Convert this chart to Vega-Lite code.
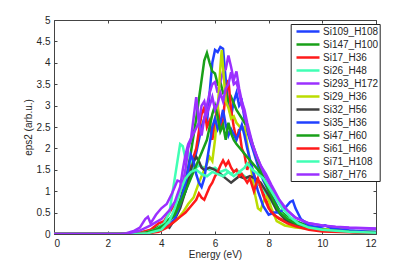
{
  "$schema": "https://vega.github.io/schema/vega-lite/v6.json",
  "width": 322,
  "height": 214,
  "autosize": {"type": "none"},
  "padding": {"left": 54, "top": 20, "right": 39, "bottom": 30},
  "background": "white",
  "config": {
    "view": {"stroke": "#444", "strokeWidth": 1},
    "font": "Liberation Sans",
    "axis": {
      "labelFont": "Liberation Sans", "labelFontSize": 10, "labelColor": "#262626",
      "titleFont": "Liberation Sans", "titleFontSize": 10, "titleFontWeight": "normal", "titleColor": "#262626",
      "grid": false, "domain": false, "tickColor": "#444", "tickSize": -3, "tickWidth": 1
    }
  },
  "data": {"values": [
    {"s":"Si109_H108","e":0,"v":0},{"s":"Si109_H108","e":2.8,"v":0},{"s":"Si109_H108","e":3.2,"v":0.02},{"s":"Si109_H108","e":3.6,"v":0.05},{"s":"Si109_H108","e":4.0,"v":0.15},{"s":"Si109_H108","e":4.3,"v":0.3},{"s":"Si109_H108","e":4.5,"v":0.45},{"s":"Si109_H108","e":4.7,"v":0.7},{"s":"Si109_H108","e":4.9,"v":1.0},{"s":"Si109_H108","e":5.1,"v":1.4},{"s":"Si109_H108","e":5.3,"v":1.9},{"s":"Si109_H108","e":5.5,"v":2.5},{"s":"Si109_H108","e":5.6,"v":2.7},{"s":"Si109_H108","e":5.7,"v":2.6},{"s":"Si109_H108","e":5.8,"v":3.3},{"s":"Si109_H108","e":5.9,"v":4.0},{"s":"Si109_H108","e":6.0,"v":4.3},{"s":"Si109_H108","e":6.1,"v":4.25},{"s":"Si109_H108","e":6.2,"v":4.37},{"s":"Si109_H108","e":6.3,"v":4.33},{"s":"Si109_H108","e":6.4,"v":3.6},{"s":"Si109_H108","e":6.5,"v":3.0},{"s":"Si109_H108","e":6.6,"v":2.75},{"s":"Si109_H108","e":6.7,"v":3.1},{"s":"Si109_H108","e":6.8,"v":3.3},{"s":"Si109_H108","e":6.9,"v":3.0},{"s":"Si109_H108","e":7.0,"v":3.1},{"s":"Si109_H108","e":7.1,"v":2.7},{"s":"Si109_H108","e":7.2,"v":2.4},{"s":"Si109_H108","e":7.4,"v":2.0},{"s":"Si109_H108","e":7.6,"v":1.6},{"s":"Si109_H108","e":7.8,"v":1.25},{"s":"Si109_H108","e":8.0,"v":1.0},{"s":"Si109_H108","e":8.2,"v":0.8},{"s":"Si109_H108","e":8.4,"v":0.55},{"s":"Si109_H108","e":8.7,"v":0.4},{"s":"Si109_H108","e":9.0,"v":0.3},{"s":"Si109_H108","e":9.4,"v":0.2},{"s":"Si109_H108","e":9.8,"v":0.15},{"s":"Si109_H108","e":10.2,"v":0.1},{"s":"Si109_H108","e":10.8,"v":0.08},{"s":"Si109_H108","e":11.4,"v":0.06},{"s":"Si109_H108","e":12,"v":0.05},

    {"s":"Si147_H100","e":0,"v":0},{"s":"Si147_H100","e":2.8,"v":0},{"s":"Si147_H100","e":3.2,"v":0.03},{"s":"Si147_H100","e":3.6,"v":0.08},{"s":"Si147_H100","e":4.0,"v":0.2},{"s":"Si147_H100","e":4.3,"v":0.35},{"s":"Si147_H100","e":4.5,"v":0.5},{"s":"Si147_H100","e":4.7,"v":0.8},{"s":"Si147_H100","e":4.9,"v":1.2},{"s":"Si147_H100","e":5.1,"v":1.9},{"s":"Si147_H100","e":5.3,"v":2.7},{"s":"Si147_H100","e":5.5,"v":3.6},{"s":"Si147_H100","e":5.6,"v":4.05},{"s":"Si147_H100","e":5.7,"v":4.23},{"s":"Si147_H100","e":5.8,"v":4.0},{"s":"Si147_H100","e":5.9,"v":3.8},{"s":"Si147_H100","e":6.0,"v":3.75},{"s":"Si147_H100","e":6.1,"v":3.5},{"s":"Si147_H100","e":6.2,"v":3.55},{"s":"Si147_H100","e":6.3,"v":3.3},{"s":"Si147_H100","e":6.4,"v":3.35},{"s":"Si147_H100","e":6.5,"v":3.1},{"s":"Si147_H100","e":6.6,"v":3.2},{"s":"Si147_H100","e":6.8,"v":2.9},{"s":"Si147_H100","e":7.0,"v":2.7},{"s":"Si147_H100","e":7.2,"v":2.5},{"s":"Si147_H100","e":7.4,"v":2.1},{"s":"Si147_H100","e":7.6,"v":1.7},{"s":"Si147_H100","e":7.8,"v":1.35},{"s":"Si147_H100","e":8.0,"v":1.0},{"s":"Si147_H100","e":8.2,"v":0.75},{"s":"Si147_H100","e":8.4,"v":0.55},{"s":"Si147_H100","e":8.7,"v":0.4},{"s":"Si147_H100","e":9.0,"v":0.3},{"s":"Si147_H100","e":9.4,"v":0.2},{"s":"Si147_H100","e":9.8,"v":0.12},{"s":"Si147_H100","e":10.4,"v":0.08},{"s":"Si147_H100","e":11,"v":0.05},{"s":"Si147_H100","e":12,"v":0.04},

    {"s":"Si17_H36","e":0,"v":0},{"s":"Si17_H36","e":2.8,"v":0},{"s":"Si17_H36","e":3.2,"v":0.03},{"s":"Si17_H36","e":3.6,"v":0.1},{"s":"Si17_H36","e":3.9,"v":0.25},{"s":"Si17_H36","e":4.1,"v":0.3},{"s":"Si17_H36","e":4.3,"v":0.5},{"s":"Si17_H36","e":4.5,"v":0.7},{"s":"Si17_H36","e":4.7,"v":1.0},{"s":"Si17_H36","e":4.9,"v":1.3},{"s":"Si17_H36","e":5.1,"v":1.6},{"s":"Si17_H36","e":5.3,"v":2.0},{"s":"Si17_H36","e":5.4,"v":2.4},{"s":"Si17_H36","e":5.5,"v":2.8},{"s":"Si17_H36","e":5.6,"v":2.95},{"s":"Si17_H36","e":5.7,"v":2.5},{"s":"Si17_H36","e":5.8,"v":2.65},{"s":"Si17_H36","e":5.9,"v":2.2},{"s":"Si17_H36","e":6.0,"v":2.6},{"s":"Si17_H36","e":6.1,"v":3.0},{"s":"Si17_H36","e":6.2,"v":2.4},{"s":"Si17_H36","e":6.3,"v":2.7},{"s":"Si17_H36","e":6.4,"v":3.3},{"s":"Si17_H36","e":6.5,"v":3.6},{"s":"Si17_H36","e":6.6,"v":2.9},{"s":"Si17_H36","e":6.7,"v":2.5},{"s":"Si17_H36","e":6.8,"v":2.2},{"s":"Si17_H36","e":6.9,"v":2.45},{"s":"Si17_H36","e":7.0,"v":2.0},{"s":"Si17_H36","e":7.1,"v":1.85},{"s":"Si17_H36","e":7.2,"v":1.5},{"s":"Si17_H36","e":7.3,"v":1.7},{"s":"Si17_H36","e":7.5,"v":1.3},{"s":"Si17_H36","e":7.7,"v":1.1},{"s":"Si17_H36","e":7.9,"v":0.8},{"s":"Si17_H36","e":8.1,"v":0.5},{"s":"Si17_H36","e":8.3,"v":0.4},{"s":"Si17_H36","e":8.6,"v":0.3},{"s":"Si17_H36","e":9.0,"v":0.2},{"s":"Si17_H36","e":9.5,"v":0.12},{"s":"Si17_H36","e":10,"v":0.08},{"s":"Si17_H36","e":11,"v":0.05},{"s":"Si17_H36","e":12,"v":0.03},

    {"s":"Si26_H48","e":0,"v":0},{"s":"Si26_H48","e":3.0,"v":0},{"s":"Si26_H48","e":3.4,"v":0.03},{"s":"Si26_H48","e":3.8,"v":0.1},{"s":"Si26_H48","e":4.1,"v":0.25},{"s":"Si26_H48","e":4.3,"v":0.5},{"s":"Si26_H48","e":4.4,"v":0.9},{"s":"Si26_H48","e":4.5,"v":1.3},{"s":"Si26_H48","e":4.6,"v":1.7},{"s":"Si26_H48","e":4.7,"v":2.1},{"s":"Si26_H48","e":4.8,"v":2.05},{"s":"Si26_H48","e":4.9,"v":1.75},{"s":"Si26_H48","e":5.0,"v":1.9},{"s":"Si26_H48","e":5.1,"v":1.7},{"s":"Si26_H48","e":5.2,"v":1.5},{"s":"Si26_H48","e":5.4,"v":1.6},{"s":"Si26_H48","e":5.6,"v":1.55},{"s":"Si26_H48","e":5.8,"v":1.5},{"s":"Si26_H48","e":6.0,"v":1.55},{"s":"Si26_H48","e":6.2,"v":1.45},{"s":"Si26_H48","e":6.4,"v":1.5},{"s":"Si26_H48","e":6.6,"v":1.4},{"s":"Si26_H48","e":6.8,"v":1.5},{"s":"Si26_H48","e":7.0,"v":1.4},{"s":"Si26_H48","e":7.2,"v":1.3},{"s":"Si26_H48","e":7.4,"v":1.35},{"s":"Si26_H48","e":7.6,"v":1.2},{"s":"Si26_H48","e":7.8,"v":1.05},{"s":"Si26_H48","e":8.0,"v":0.85},{"s":"Si26_H48","e":8.3,"v":0.6},{"s":"Si26_H48","e":8.6,"v":0.4},{"s":"Si26_H48","e":9.0,"v":0.25},{"s":"Si26_H48","e":9.5,"v":0.15},{"s":"Si26_H48","e":10,"v":0.1},{"s":"Si26_H48","e":11,"v":0.05},{"s":"Si26_H48","e":12,"v":0.03},

    {"s":"Si293_H172","e":0,"v":0},{"s":"Si293_H172","e":2.4,"v":0},{"s":"Si293_H172","e":2.7,"v":0.02},{"s":"Si293_H172","e":3.0,"v":0.08},{"s":"Si293_H172","e":3.2,"v":0.15},{"s":"Si293_H172","e":3.4,"v":0.35},{"s":"Si293_H172","e":3.5,"v":0.4},{"s":"Si293_H172","e":3.6,"v":0.25},{"s":"Si293_H172","e":3.8,"v":0.45},{"s":"Si293_H172","e":4.0,"v":0.6},{"s":"Si293_H172","e":4.2,"v":0.7},{"s":"Si293_H172","e":4.4,"v":0.95},{"s":"Si293_H172","e":4.6,"v":1.25},{"s":"Si293_H172","e":4.8,"v":1.2},{"s":"Si293_H172","e":4.9,"v":1.5},{"s":"Si293_H172","e":5.0,"v":2.0},{"s":"Si293_H172","e":5.1,"v":2.2},{"s":"Si293_H172","e":5.2,"v":2.7},{"s":"Si293_H172","e":5.3,"v":3.2},{"s":"Si293_H172","e":5.4,"v":2.6},{"s":"Si293_H172","e":5.5,"v":2.3},{"s":"Si293_H172","e":5.6,"v":2.7},{"s":"Si293_H172","e":5.7,"v":3.0},{"s":"Si293_H172","e":5.8,"v":3.3},{"s":"Si293_H172","e":5.9,"v":3.5},{"s":"Si293_H172","e":6.0,"v":3.55},{"s":"Si293_H172","e":6.1,"v":3.3},{"s":"Si293_H172","e":6.2,"v":3.55},{"s":"Si293_H172","e":6.3,"v":3.8},{"s":"Si293_H172","e":6.4,"v":3.85},{"s":"Si293_H172","e":6.5,"v":4.17},{"s":"Si293_H172","e":6.6,"v":3.9},{"s":"Si293_H172","e":6.7,"v":3.6},{"s":"Si293_H172","e":6.8,"v":3.8},{"s":"Si293_H172","e":6.9,"v":3.4},{"s":"Si293_H172","e":7.0,"v":3.1},{"s":"Si293_H172","e":7.1,"v":2.9},{"s":"Si293_H172","e":7.2,"v":2.6},{"s":"Si293_H172","e":7.4,"v":2.1},{"s":"Si293_H172","e":7.6,"v":1.75},{"s":"Si293_H172","e":7.8,"v":1.45},{"s":"Si293_H172","e":8.0,"v":1.2},{"s":"Si293_H172","e":8.3,"v":0.85},{"s":"Si293_H172","e":8.6,"v":0.6},{"s":"Si293_H172","e":9.0,"v":0.38},{"s":"Si293_H172","e":9.5,"v":0.25},{"s":"Si293_H172","e":10,"v":0.2},{"s":"Si293_H172","e":10.5,"v":0.16},{"s":"Si293_H172","e":11,"v":0.14},{"s":"Si293_H172","e":12,"v":0.12},

    {"s":"Si29_H36","e":0,"v":0},{"s":"Si29_H36","e":3.0,"v":0},{"s":"Si29_H36","e":3.5,"v":0.02},{"s":"Si29_H36","e":4.0,"v":0.1},{"s":"Si29_H36","e":4.3,"v":0.2},{"s":"Si29_H36","e":4.6,"v":0.35},{"s":"Si29_H36","e":4.8,"v":0.5},{"s":"Si29_H36","e":5.0,"v":0.7},{"s":"Si29_H36","e":5.2,"v":0.85},{"s":"Si29_H36","e":5.4,"v":1.2},{"s":"Si29_H36","e":5.6,"v":1.5},{"s":"Si29_H36","e":5.8,"v":1.8},{"s":"Si29_H36","e":5.9,"v":1.7},{"s":"Si29_H36","e":6.0,"v":2.2},{"s":"Si29_H36","e":6.1,"v":2.9},{"s":"Si29_H36","e":6.2,"v":3.9},{"s":"Si29_H36","e":6.25,"v":4.3},{"s":"Si29_H36","e":6.3,"v":3.9},{"s":"Si29_H36","e":6.4,"v":3.1},{"s":"Si29_H36","e":6.5,"v":2.95},{"s":"Si29_H36","e":6.6,"v":2.7},{"s":"Si29_H36","e":6.7,"v":2.75},{"s":"Si29_H36","e":6.8,"v":2.6},{"s":"Si29_H36","e":7.0,"v":2.45},{"s":"Si29_H36","e":7.1,"v":2.5},{"s":"Si29_H36","e":7.2,"v":2.1},{"s":"Si29_H36","e":7.3,"v":1.7},{"s":"Si29_H36","e":7.4,"v":1.3},{"s":"Si29_H36","e":7.5,"v":0.9},{"s":"Si29_H36","e":7.6,"v":0.6},{"s":"Si29_H36","e":7.7,"v":0.55},{"s":"Si29_H36","e":7.8,"v":0.75},{"s":"Si29_H36","e":7.95,"v":0.9},{"s":"Si29_H36","e":8.1,"v":0.6},{"s":"Si29_H36","e":8.3,"v":0.3},{"s":"Si29_H36","e":8.6,"v":0.2},{"s":"Si29_H36","e":9.0,"v":0.15},{"s":"Si29_H36","e":9.5,"v":0.12},{"s":"Si29_H36","e":10,"v":0.1},{"s":"Si29_H36","e":10.5,"v":0.12},{"s":"Si29_H36","e":11,"v":0.07},{"s":"Si29_H36","e":12,"v":0.04},

    {"s":"Si32_H56","e":0,"v":0},{"s":"Si32_H56","e":3.0,"v":0},{"s":"Si32_H56","e":3.5,"v":0.02},{"s":"Si32_H56","e":3.9,"v":0.08},{"s":"Si32_H56","e":4.2,"v":0.2},{"s":"Si32_H56","e":4.3,"v":0.15},{"s":"Si32_H56","e":4.5,"v":0.35},{"s":"Si32_H56","e":4.7,"v":0.6},{"s":"Si32_H56","e":4.9,"v":1.0},{"s":"Si32_H56","e":5.1,"v":1.5},{"s":"Si32_H56","e":5.2,"v":1.7},{"s":"Si32_H56","e":5.3,"v":1.8},{"s":"Si32_H56","e":5.4,"v":1.7},{"s":"Si32_H56","e":5.5,"v":1.55},{"s":"Si32_H56","e":5.6,"v":1.5},{"s":"Si32_H56","e":5.8,"v":1.55},{"s":"Si32_H56","e":6.0,"v":1.5},{"s":"Si32_H56","e":6.2,"v":1.4},{"s":"Si32_H56","e":6.4,"v":1.3},{"s":"Si32_H56","e":6.6,"v":1.2},{"s":"Si32_H56","e":6.7,"v":1.25},{"s":"Si32_H56","e":6.9,"v":1.35},{"s":"Si32_H56","e":7.1,"v":1.3},{"s":"Si32_H56","e":7.3,"v":1.35},{"s":"Si32_H56","e":7.5,"v":1.3},{"s":"Si32_H56","e":7.7,"v":1.2},{"s":"Si32_H56","e":7.9,"v":1.0},{"s":"Si32_H56","e":8.1,"v":0.8},{"s":"Si32_H56","e":8.3,"v":0.55},{"s":"Si32_H56","e":8.6,"v":0.35},{"s":"Si32_H56","e":9.0,"v":0.2},{"s":"Si32_H56","e":9.5,"v":0.12},{"s":"Si32_H56","e":10,"v":0.08},{"s":"Si32_H56","e":11,"v":0.05},{"s":"Si32_H56","e":12,"v":0.03},

    {"s":"Si35_H36","e":0,"v":0},{"s":"Si35_H36","e":3.0,"v":0},{"s":"Si35_H36","e":3.5,"v":0.02},{"s":"Si35_H36","e":4.0,"v":0.1},{"s":"Si35_H36","e":4.3,"v":0.2},{"s":"Si35_H36","e":4.5,"v":0.35},{"s":"Si35_H36","e":4.7,"v":0.7},{"s":"Si35_H36","e":4.9,"v":1.2},{"s":"Si35_H36","e":5.0,"v":1.5},{"s":"Si35_H36","e":5.1,"v":1.85},{"s":"Si35_H36","e":5.2,"v":1.7},{"s":"Si35_H36","e":5.3,"v":1.4},{"s":"Si35_H36","e":5.4,"v":1.2},{"s":"Si35_H36","e":5.5,"v":1.1},{"s":"Si35_H36","e":5.6,"v":1.3},{"s":"Si35_H36","e":5.7,"v":1.7},{"s":"Si35_H36","e":5.8,"v":2.1},{"s":"Si35_H36","e":5.9,"v":2.5},{"s":"Si35_H36","e":6.0,"v":2.7},{"s":"Si35_H36","e":6.1,"v":2.45},{"s":"Si35_H36","e":6.2,"v":2.6},{"s":"Si35_H36","e":6.3,"v":2.9},{"s":"Si35_H36","e":6.4,"v":2.55},{"s":"Si35_H36","e":6.5,"v":2.3},{"s":"Si35_H36","e":6.6,"v":2.45},{"s":"Si35_H36","e":6.8,"v":2.2},{"s":"Si35_H36","e":7.0,"v":2.55},{"s":"Si35_H36","e":7.1,"v":2.3},{"s":"Si35_H36","e":7.2,"v":2.0},{"s":"Si35_H36","e":7.4,"v":1.5},{"s":"Si35_H36","e":7.6,"v":1.0},{"s":"Si35_H36","e":7.8,"v":0.65},{"s":"Si35_H36","e":8.0,"v":0.45},{"s":"Si35_H36","e":8.2,"v":0.5},{"s":"Si35_H36","e":8.4,"v":0.5},{"s":"Si35_H36","e":8.6,"v":0.6},{"s":"Si35_H36","e":8.8,"v":0.75},{"s":"Si35_H36","e":8.9,"v":0.78},{"s":"Si35_H36","e":9.0,"v":0.6},{"s":"Si35_H36","e":9.2,"v":0.35},{"s":"Si35_H36","e":9.5,"v":0.2},{"s":"Si35_H36","e":9.8,"v":0.15},{"s":"Si35_H36","e":10.1,"v":0.2},{"s":"Si35_H36","e":10.4,"v":0.12},{"s":"Si35_H36","e":11,"v":0.08},{"s":"Si35_H36","e":12,"v":0.04},

    {"s":"Si47_H60","e":0,"v":0},{"s":"Si47_H60","e":3.0,"v":0},{"s":"Si47_H60","e":3.4,"v":0.03},{"s":"Si47_H60","e":3.8,"v":0.1},{"s":"Si47_H60","e":4.2,"v":0.25},{"s":"Si47_H60","e":4.5,"v":0.45},{"s":"Si47_H60","e":4.7,"v":0.7},{"s":"Si47_H60","e":4.9,"v":1.0},{"s":"Si47_H60","e":5.1,"v":1.3},{"s":"Si47_H60","e":5.3,"v":1.6},{"s":"Si47_H60","e":5.5,"v":1.9},{"s":"Si47_H60","e":5.7,"v":2.2},{"s":"Si47_H60","e":5.8,"v":2.5},{"s":"Si47_H60","e":5.9,"v":2.8},{"s":"Si47_H60","e":6.0,"v":3.0},{"s":"Si47_H60","e":6.1,"v":2.75},{"s":"Si47_H60","e":6.2,"v":2.4},{"s":"Si47_H60","e":6.3,"v":2.55},{"s":"Si47_H60","e":6.4,"v":2.2},{"s":"Si47_H60","e":6.5,"v":2.6},{"s":"Si47_H60","e":6.6,"v":2.35},{"s":"Si47_H60","e":6.7,"v":2.2},{"s":"Si47_H60","e":6.8,"v":2.1},{"s":"Si47_H60","e":7.0,"v":1.95},{"s":"Si47_H60","e":7.2,"v":1.8},{"s":"Si47_H60","e":7.4,"v":1.65},{"s":"Si47_H60","e":7.6,"v":1.5},{"s":"Si47_H60","e":7.8,"v":1.3},{"s":"Si47_H60","e":8.0,"v":1.05},{"s":"Si47_H60","e":8.2,"v":0.75},{"s":"Si47_H60","e":8.4,"v":0.5},{"s":"Si47_H60","e":8.7,"v":0.35},{"s":"Si47_H60","e":9.0,"v":0.25},{"s":"Si47_H60","e":9.5,"v":0.15},{"s":"Si47_H60","e":10,"v":0.1},{"s":"Si47_H60","e":11,"v":0.05},{"s":"Si47_H60","e":12,"v":0.03},

    {"s":"Si61_H66","e":0,"v":0},{"s":"Si61_H66","e":3.0,"v":0},{"s":"Si61_H66","e":3.5,"v":0.02},{"s":"Si61_H66","e":3.9,"v":0.05},{"s":"Si61_H66","e":4.2,"v":0.15},{"s":"Si61_H66","e":4.5,"v":0.3},{"s":"Si61_H66","e":4.7,"v":0.4},{"s":"Si61_H66","e":4.9,"v":0.5},{"s":"Si61_H66","e":5.1,"v":0.65},{"s":"Si61_H66","e":5.3,"v":0.8},{"s":"Si61_H66","e":5.4,"v":0.95},{"s":"Si61_H66","e":5.5,"v":0.85},{"s":"Si61_H66","e":5.6,"v":0.8},{"s":"Si61_H66","e":5.7,"v":0.95},{"s":"Si61_H66","e":5.8,"v":1.1},{"s":"Si61_H66","e":5.9,"v":1.2},{"s":"Si61_H66","e":6.0,"v":1.35},{"s":"Si61_H66","e":6.1,"v":1.45},{"s":"Si61_H66","e":6.2,"v":1.6},{"s":"Si61_H66","e":6.3,"v":1.72},{"s":"Si61_H66","e":6.4,"v":1.6},{"s":"Si61_H66","e":6.5,"v":1.7},{"s":"Si61_H66","e":6.6,"v":1.55},{"s":"Si61_H66","e":6.7,"v":1.45},{"s":"Si61_H66","e":6.8,"v":1.5},{"s":"Si61_H66","e":6.9,"v":1.35},{"s":"Si61_H66","e":7.0,"v":1.4},{"s":"Si61_H66","e":7.2,"v":1.2},{"s":"Si61_H66","e":7.3,"v":1.3},{"s":"Si61_H66","e":7.45,"v":1.0},{"s":"Si61_H66","e":7.6,"v":1.3},{"s":"Si61_H66","e":7.8,"v":0.9},{"s":"Si61_H66","e":8.0,"v":0.6},{"s":"Si61_H66","e":8.2,"v":0.45},{"s":"Si61_H66","e":8.4,"v":0.35},{"s":"Si61_H66","e":8.7,"v":0.25},{"s":"Si61_H66","e":9.0,"v":0.18},{"s":"Si61_H66","e":9.5,"v":0.1},{"s":"Si61_H66","e":10,"v":0.06},{"s":"Si61_H66","e":11,"v":0.04},{"s":"Si61_H66","e":12,"v":0.02},

    {"s":"Si71_H108","e":0,"v":0},{"s":"Si71_H108","e":3.0,"v":0},{"s":"Si71_H108","e":3.5,"v":0.02},{"s":"Si71_H108","e":4.0,"v":0.1},{"s":"Si71_H108","e":4.3,"v":0.3},{"s":"Si71_H108","e":4.5,"v":0.6},{"s":"Si71_H108","e":4.7,"v":1.0},{"s":"Si71_H108","e":4.9,"v":1.3},{"s":"Si71_H108","e":5.1,"v":1.45},{"s":"Si71_H108","e":5.3,"v":1.5},{"s":"Si71_H108","e":5.5,"v":1.4},{"s":"Si71_H108","e":5.7,"v":1.35},{"s":"Si71_H108","e":5.9,"v":1.45},{"s":"Si71_H108","e":6.1,"v":1.4},{"s":"Si71_H108","e":6.3,"v":1.35},{"s":"Si71_H108","e":6.5,"v":1.45},{"s":"Si71_H108","e":6.7,"v":1.35},{"s":"Si71_H108","e":6.9,"v":1.45},{"s":"Si71_H108","e":7.1,"v":1.55},{"s":"Si71_H108","e":7.2,"v":1.65},{"s":"Si71_H108","e":7.4,"v":1.5},{"s":"Si71_H108","e":7.6,"v":1.4},{"s":"Si71_H108","e":7.8,"v":1.3},{"s":"Si71_H108","e":8.0,"v":1.1},{"s":"Si71_H108","e":8.2,"v":0.9},{"s":"Si71_H108","e":8.5,"v":0.6},{"s":"Si71_H108","e":8.8,"v":0.4},{"s":"Si71_H108","e":9.1,"v":0.25},{"s":"Si71_H108","e":9.5,"v":0.15},{"s":"Si71_H108","e":10,"v":0.1},{"s":"Si71_H108","e":11,"v":0.05},{"s":"Si71_H108","e":12,"v":0.03},

    {"s":"Si87_H76","e":0,"v":0},{"s":"Si87_H76","e":2.5,"v":0},{"s":"Si87_H76","e":2.8,"v":0.02},{"s":"Si87_H76","e":3.2,"v":0.08},{"s":"Si87_H76","e":3.6,"v":0.2},{"s":"Si87_H76","e":4.0,"v":0.35},{"s":"Si87_H76","e":4.3,"v":0.55},{"s":"Si87_H76","e":4.5,"v":0.75},{"s":"Si87_H76","e":4.7,"v":1.1},{"s":"Si87_H76","e":4.8,"v":1.5},{"s":"Si87_H76","e":4.9,"v":1.85},{"s":"Si87_H76","e":5.0,"v":2.1},{"s":"Si87_H76","e":5.2,"v":2.35},{"s":"Si87_H76","e":5.4,"v":2.6},{"s":"Si87_H76","e":5.5,"v":3.0},{"s":"Si87_H76","e":5.6,"v":3.1},{"s":"Si87_H76","e":5.7,"v":2.8},{"s":"Si87_H76","e":5.8,"v":3.0},{"s":"Si87_H76","e":5.9,"v":3.2},{"s":"Si87_H76","e":6.0,"v":2.9},{"s":"Si87_H76","e":6.1,"v":3.05},{"s":"Si87_H76","e":6.2,"v":3.3},{"s":"Si87_H76","e":6.3,"v":3.1},{"s":"Si87_H76","e":6.4,"v":3.4},{"s":"Si87_H76","e":6.5,"v":3.5},{"s":"Si87_H76","e":6.6,"v":3.78},{"s":"Si87_H76","e":6.7,"v":3.5},{"s":"Si87_H76","e":6.8,"v":3.55},{"s":"Si87_H76","e":6.9,"v":3.3},{"s":"Si87_H76","e":7.0,"v":3.0},{"s":"Si87_H76","e":7.1,"v":2.8},{"s":"Si87_H76","e":7.2,"v":2.5},{"s":"Si87_H76","e":7.3,"v":2.25},{"s":"Si87_H76","e":7.5,"v":1.9},{"s":"Si87_H76","e":7.7,"v":1.6},{"s":"Si87_H76","e":7.9,"v":1.4},{"s":"Si87_H76","e":8.1,"v":1.15},{"s":"Si87_H76","e":8.4,"v":0.8},{"s":"Si87_H76","e":8.7,"v":0.55},{"s":"Si87_H76","e":9.0,"v":0.38},{"s":"Si87_H76","e":9.5,"v":0.25},{"s":"Si87_H76","e":10,"v":0.2},{"s":"Si87_H76","e":10.5,"v":0.17},{"s":"Si87_H76","e":11,"v":0.15},{"s":"Si87_H76","e":12,"v":0.13}
  ]},
  "layer": [
    {
      "mark": {"type": "line", "strokeWidth": 2.5, "clip": true},
      "encoding": {
        "x": {"field": "e", "type": "quantitative", "scale": {"domain": [0, 12], "nice": false},
              "axis": {"orient": "bottom", "values": [0,2,4,6,8,10,12], "title": "Energy (eV)", "labelPadding": 7, "titlePadding": 1}},
        "y": {"field": "v", "type": "quantitative", "scale": {"domain": [0, 5], "nice": false},
              "axis": {"orient": "left", "values": [0,0.5,1,1.5,2,2.5,3,3.5,4,4.5,5], "format": "~g", "title": "eps2 (arb.u.)", "labelPadding": 7, "titlePadding": 3}},
        "color": {"field": "s", "type": "nominal",
          "scale": {
            "domain": ["Si109_H108","Si147_H100","Si17_H36","Si26_H48","Si293_H172","Si29_H36","Si32_H56","Si35_H36","Si47_H60","Si61_H66","Si71_H108","Si87_H76"],
            "range": ["#2040ff","#19a019","#ff1a1a","#40ffb4","#9b30ff","#bbdd00","#404040","#2040ff","#19a019","#ff1a1a","#40ffb4","#9b30ff"]
          },
          "legend": {
            "title": null, "orient": "none", "legendX": 236.7, "legendY": 4,
            "symbolType": "M-0.34,0L4.26,0", "symbolSize": 100, "symbolStrokeWidth": 2.5, "symbolOpacity": 1,
            "labelFont": "Liberation Sans", "labelFontSize": 10, "labelColor": "#262626", "labelOffset": 18.3,
            "rowPadding": 1, "padding": 1, "strokeColor": "#222", "fillColor": "white"
          }
        }
      }
    },
    {
      "mark": {"type": "line", "opacity": 0},
      "encoding": {
        "x": {"field": "e", "type": "quantitative", "axis": {"orient": "top", "values": [0,2,4,6,8,10,12], "labels": false, "title": null}},
        "y": {"field": "v", "type": "quantitative", "axis": {"orient": "right", "values": [0,0.5,1,1.5,2,2.5,3,3.5,4,4.5,5], "labels": false, "title": null}},
        "detail": {"field": "s"}
      }
    }
  ],
  "resolve": {"axis": {"x": "independent", "y": "independent"}}
}
